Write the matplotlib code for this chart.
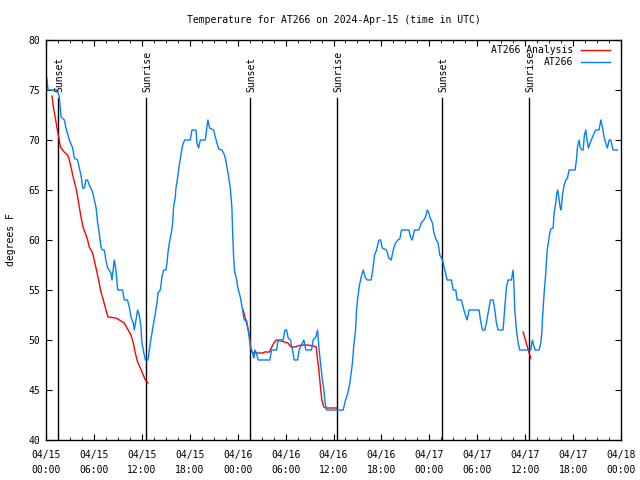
import numpy as np
import matplotlib
matplotlib.use("Agg")
import matplotlib.pyplot as plt

# hours since 2024-04-15 00:00 UTC, temperature in deg F
obs_hours = [0.1, 0.25, 1.4, 1.67, 1.88, 2.3, 2.5, 2.92, 3.34, 3.55, 3.96, 4.17, 4.38, 4.59, 4.8, 5.0, 5.2, 5.42,
             5.84, 6.05, 6.26, 6.47, 6.67, 6.88, 7.09, 7.3, 7.5, 7.72, 8.13, 8.26, 8.4, 8.55, 8.76, 8.97, 9.6, 9.8,
             10.2, 10.43, 10.64, 10.93, 11.06, 11.47, 11.68, 11.89, 12.0, 12.23, 12.44, 12.77, 13.06, 13.27, 13.48,
             13.69, 13.9, 14.02, 14.31, 14.52, 14.73, 15.02, 15.15, 15.27, 15.44, 15.69, 15.86, 15.98, 16.19, 16.27,
             16.44, 16.61, 16.73, 16.94, 17.11, 17.36, 18.07, 18.28, 18.78, 18.9, 19.11, 19.32, 19.95, 20.15, 20.28,
             20.49, 20.99, 21.2, 21.41, 21.62, 22.03, 22.24, 22.45, 22.66, 22.87, 23.08, 23.28, 23.37, 23.49, 23.62,
             23.83, 24.03, 24.36, 24.61, 24.82, 25.11, 25.32, 25.53, 25.74, 26.03, 26.15, 26.3, 26.57, 28.03, 28.24,
             28.87, 29.07, 29.7, 29.91, 30.12, 30.33, 30.6, 30.87, 31.08, 31.5, 31.7, 31.99, 32.29, 32.54, 33.25,
             33.45, 33.79, 34.0, 34.2, 34.37, 34.62, 34.79, 34.96, 35.12, 37.21, 37.51, 37.8, 38.05, 38.34, 38.55,
             38.76, 38.89, 39.05, 39.26, 39.47, 39.72, 40.01, 40.22, 40.72, 40.97, 41.14, 41.39, 41.68, 41.9, 42.1,
             42.64, 42.93, 43.23, 43.48, 43.77, 44.06, 44.3, 44.52, 45.44, 45.65, 45.85, 46.15, 46.69, 46.98, 47.31,
             47.52, 47.73, 47.94, 48.06, 48.39, 48.56, 48.81, 49.1, 49.31, 49.65, 49.94, 50.23, 50.77, 50.98, 51.31,
             51.48, 52.02, 52.23, 52.44, 52.73, 52.98, 54.23, 54.4, 54.65, 54.94, 55.15, 55.36, 55.65, 55.99, 56.2,
             56.4, 56.61, 57.24, 57.45, 57.66, 57.86, 58.28, 58.49, 58.57, 58.7, 58.91, 59.12, 59.32, 60.08, 60.7,
             60.91, 61.12, 61.25, 61.75, 61.96, 62.08, 62.17, 62.29, 62.42, 62.58, 62.67, 62.79, 62.92, 63.08, 63.21,
             63.5, 63.63, 63.83, 63.96, 64.08, 64.25, 64.38, 64.5, 64.67, 64.88, 65.09, 65.3, 65.5, 66.25, 66.42,
             66.55, 66.76, 66.88, 67.09, 67.26, 67.42, 67.59, 67.71, 67.92, 68.13, 68.34, 68.63, 68.84, 69.26, 69.47,
             69.68, 69.88, 70.09, 70.3, 70.51, 70.72, 71.01, 71.55]
obs_temp = [76.2, 75, 75, 74.3, 72.3, 72, 71.2, 70, 69.2, 68.2, 68, 67.2, 66.5, 65.2, 65.2, 66, 66, 65.5,
            64.8, 64, 63.3, 61.7, 60.7, 59.3, 59, 59, 58, 57.2, 56.7, 56, 57, 58, 57, 55, 55, 54,
            54, 53.3, 52.3, 51.7, 51, 53, 52.5, 51.3, 49.8, 48.8, 48, 48, 49.7, 50.7, 51.7,
            52.7, 53.7, 54.7, 55, 56.3, 57, 57, 57.7, 58.7, 59.7, 60.7, 61.7, 63.3, 64.3, 65.2,
            66, 67, 67.7, 68.7, 69.5, 70, 70, 71, 71, 69.7, 69.2, 70, 70, 71.3, 72,
            71.2, 71, 70.3, 69.7, 69.1, 69, 68.7, 68.2, 67.3, 66.3, 65.2, 63.2, 60.8, 58.3, 56.8,
            56.2, 55.2, 54.2, 53, 52, 52, 51, 49.7, 49, 48.2, 49, 48.8, 48, 48, 49,
            49, 50, 50, 51, 51, 50.2, 50, 49, 48, 48, 49, 49.5, 50, 49, 49,
            50, 50.3, 51, 49, 47.7, 46, 45, 43.7, 43, 43, 44, 44.7, 45.7, 47.5, 49.5,
            51, 53, 54.3, 55.5, 56.3, 57, 56.2, 56, 56, 57.3, 58.5, 59, 60, 60, 59.2,
            59, 58.2, 58, 59, 59.7, 60, 60.1, 61, 61, 60.3, 60, 61, 61, 61.7, 62,
            62.3, 63, 62.7, 62.3, 61.7, 60.8, 60.1, 59.7, 58.5, 58, 57, 56, 56, 55, 55,
            54, 54, 53.3, 52.7, 52, 53, 53, 52, 51, 51, 51.7, 52.7, 54, 54, 53,
            51.7, 51, 51, 53.3, 55.3, 56, 56, 57, 56, 53, 51, 49.7, 49, 49, 49,
            50, 49.3, 49, 49, 49.7, 50.7, 52.2, 53.7, 55.2, 56.7, 58, 59.2, 59.8, 60.7, 61.1,
            61.2, 62.7, 63.7, 64.7, 65, 64, 63.3, 63, 64.5, 65.5, 66, 66.2, 67, 67, 68,
            69.3, 70, 69.3, 69, 69, 70.5, 71, 70.2, 69.2, 69.7, 70.1, 70.7, 71, 71, 72,
            71.3, 70.3, 69.7, 69.2, 70, 70, 69, 69]

# analysis segments, separated by NaN
ana_hours = [0.75, 0.92, 1.17, 1.38, 1.59, 1.75, 1.88, 2.29, 2.71, 2.92, 3.13, 3.34, 3.75, 3.96, 4.17, 4.38, 4.67,
             4.92, 5.21, 5.42, 5.84, 6.26, 6.59, 6.88, 7.18, 7.51, 7.76, 8.76, 9.39, 9.8, 10.22, 10.64, 10.93, 11.18,
             11.47, 11.76, 12.02, 12.44, 12.77, 18.0,
             24.69, 24.9, 25.11, 25.32, 25.53, 25.62, 25.78, 26.03, 27.16, 27.37, 27.99, 28.2, 28.54, 28.83, 29.45,
             29.87, 30.29, 30.7, 31.12, 31.96, 32.79, 33.42, 33.83, 33.96, 34.13, 34.25, 34.38, 34.54, 34.79, 35.09,
             36.37, 48.0,
             59.74, 60.03, 60.5, 60.7]
ana_temp = [74.4, 73.3, 72.2, 71.2, 70.3, 69.5, 69.2, 68.8, 68.5, 68, 67.3, 66.5, 65.2, 64.3, 63.3, 62.3, 61.2,
            60.7, 60, 59.3, 58.7, 57.2, 56, 54.8, 54, 53, 52.3, 52.2, 51.9, 51.7, 51.1, 50.5, 49.7, 48.7,
            47.8, 47.3, 46.8, 46, 45.7, np.nan,
            53, 52.3, 51.7, 51, 50.2, 49.2, 48.8, 48.7, 48.7, 48.8, 48.8, 49.2, 49.7, 50, 49.9,
            49.8, 49.7, 49.3, 49.3, 49.5, 49.5, 49.4, 49.3, 48.3, 47.3, 46.3, 45.2, 44, 43.3, 43.2,
            43.2, np.nan,
            50.8, 50, 48.7, 48.2]

sun_hours = [1.53, 12.47, 25.56, 36.45, 49.6, 60.42]
sun_labels = ["Sunset", "Sunrise", "Sunset", "Sunrise", "Sunset", "Sunrise"]

tick_hours = list(range(0, 73, 6))
tick_labels = ["04/15\n00:00", "04/15\n06:00", "04/15\n12:00", "04/15\n18:00",
               "04/16\n00:00", "04/16\n06:00", "04/16\n12:00", "04/16\n18:00",
               "04/17\n00:00", "04/17\n06:00", "04/17\n12:00", "04/17\n18:00",
               "04/18\n00:00"]

plt.rcParams['font.family'] = 'DejaVu Sans Mono'
plt.rcParams['font.size'] = 7

fig = plt.figure(figsize=(6.4, 4.8), dpi=100)
ax = fig.add_axes([46 / 640, 40 / 480, 575 / 640, 400 / 480])

for h, lab in zip(sun_hours, sun_labels):
    ax.plot([h, h], [40, 74.2], color='black', lw=1.0)
    ax.text(h + 0.2, 74.8, lab, rotation=90, ha='center', va='bottom', fontsize=7)

ax.plot(ana_hours, ana_temp, color='#ff0000', lw=1.0, label='AT266 Analysis')
ax.plot(obs_hours, obs_temp, color='#0080ff', lw=1.0, label='AT266')

ax.set_xlim(0, 72)
ax.set_ylim(40, 80)
ax.set_xticks(tick_hours)
ax.set_xticklabels(tick_labels, linespacing=1.6)
ax.set_xticks(np.arange(0, 72.1, 1.5), minor=True)
ax.set_yticks(range(40, 81, 5))
ax.tick_params(which='both', direction='in', top=True, right=True, labelsize=7)
ax.tick_params(which='major', length=4.5)
ax.tick_params(which='minor', length=2.5)
ax.tick_params(axis='x', pad=7)
ax.tick_params(axis='y', pad=4)
for s in ax.spines.values():
    s.set_linewidth(1.0)

ax.set_ylabel('degrees F', fontsize=7, labelpad=9)
ax.set_title('Temperature for AT266 on 2024-Apr-15 (time in UTC)', fontsize=7, pad=12)

ax.legend(loc='upper right', bbox_to_anchor=(0.988, 0.997), frameon=False, markerfirst=False,
          fontsize=7, handlelength=3.0, borderaxespad=0.0, labelspacing=0.2, handletextpad=0.8)

fig.savefig('out.png', dpi=100)
